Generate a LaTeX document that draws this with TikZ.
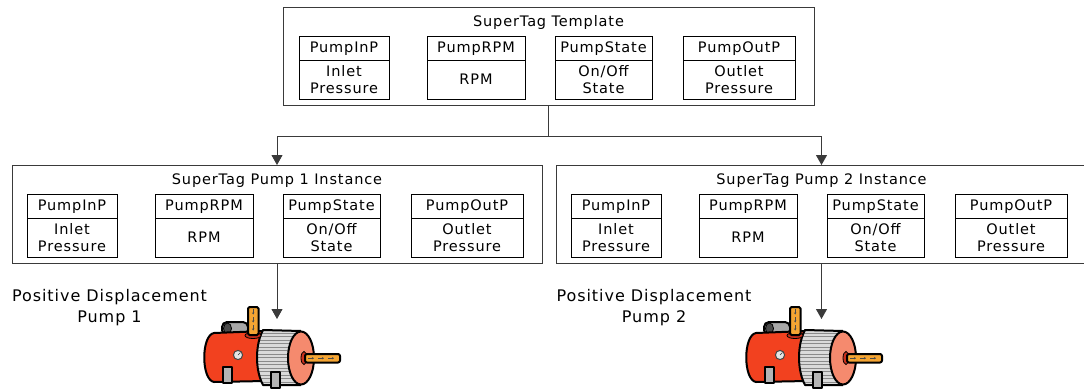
\documentclass[tikz,border=0pt]{standalone}
\usepackage{fontspec}
\setmainfont{DejaVu Sans}[LetterSpace=6]
\usetikzlibrary{arrows.meta}

\definecolor{tankred}{HTML}{F2411F}
\definecolor{flangered}{HTML}{C8301C}
\definecolor{capsalmon}{HTML}{F58A6E}
\definecolor{pipeorange}{HTML}{F5A533}
\definecolor{finlight}{HTML}{DADADA}
\definecolor{finline}{HTML}{8A8A8A}
\definecolor{exhaustgrey}{HTML}{A8A8A8}
\definecolor{exhaustdark}{HTML}{4A4A4A}
\definecolor{legsgrey}{HTML}{B4B4B4}
\definecolor{framegrey}{HTML}{3A3A3A}

% Pump artwork, drawn with its top-left region near (205,307)
\newcommand\drawpumpicon{%
  % exhaust cylinder behind the tank
  \draw[outl, fill=exhaustgrey, rounded corners=5pt] (222,322) rectangle (248,335);
  \draw[fill=exhaustdark, draw=black, line width=0.8pt] (227.5,328.5) ellipse (4 and 5.5);
  % red tank
  \draw[outl, fill=tankred] (265,331) -- (214,333)
     .. controls (201,335) and (201,380) .. (214,382) -- (265,381) -- cycle;
  % gauge
  \draw[fill=gray!20, draw=gray!55!black, line width=1pt] (238,355) circle (4.6);
  \draw[gray!40!black, line width=0.6pt] (238,355) -- (240.5,352.5);
  % legs
  \draw[outl, line width=1.2pt, fill=legsgrey] (223,367) rectangle (232,383);
  % finned motor
  \begin{scope}
    \clip (263,330) -- (301,331) -- (301,385) -- (263,385)
       .. controls (255,370) and (255,345) .. cycle;
    \fill[finlight] (250,325) rectangle (305,390);
    \foreach \yy in {333,336.5,...,384}
      \draw[finline, line width=0.9pt] (250,\yy) -- (305,\yy);
  \end{scope}
  \draw[outl] (301,331) -- (263,330) .. controls (255,345) and (255,370) .. (263,385) -- (301,385);
  \draw[outl, line width=1.2pt, fill=legsgrey] (271,372) rectangle (280,388);
  % motor end cap
  \draw[outl, fill=capsalmon] (301,358) ellipse (13 and 26.5);
  % shaft
  \draw[fill=flangered, draw=black, line width=0.8pt] (304,358) ellipse (3 and 6.5);
  \draw[outl, fill=pipeorange, rounded corners=2pt] (305,354) rectangle (340,362.5);
  \foreach \xx in {312,322,332}
    \draw[-{Stealth[length=2pt,width=2.4pt]}, black!70, line width=0.5pt] (\xx-4,358.2) -- (\xx+2,358.2);
  % inlet pipe
  \draw[fill=flangered, draw=black, line width=0.8pt] (253,335.5) ellipse (8 and 3);
  \draw[outl, fill=pipeorange, rounded corners=1.5pt] (248,307) rectangle (258.5,335);
  \foreach \yy in {313,321,329}
    \draw[-{Stealth[length=2pt,width=2.4pt]}, black!70, line width=0.5pt] (253.2,\yy-4) -- (253.2,\yy+1.5);
}

\begin{document}
\begin{tikzpicture}[x=1pt, y=-1pt,
  outl/.style={draw=black, line width=2pt, line join=round},
  outerbox/.style={draw=framegrey, line width=0.9pt, inner sep=0pt, outer sep=0pt, anchor=north west},
  boxtitle/.style={font=\fontsize{14.5}{16}\selectfont, anchor=base, inner sep=0pt},
  cellhead/.style={draw=black, line width=0.8pt, anchor=north west, minimum height=24pt,
    inner sep=0pt, outer sep=0pt, text height=10.5pt, text depth=2pt, font=\fontsize{14.5}{16}\selectfont},
  cellbody/.style={draw=black, line width=0.8pt, anchor=north, minimum height=39pt,
    inner sep=0pt, outer sep=0pt, align=center, font=\fontsize{14.5}{16.5}\selectfont},
  wire/.style={draw=framegrey, line width=0.9pt},
  feed/.style={wire, -{Triangle[width=11pt,length=10pt]}},
  pumplabel/.style={align=center, inner sep=0pt, font=\fontsize{16}{21}\selectfont}]

\useasboundingbox (0,0) rectangle (1084,391);

% template and the two instances, each with its four tag cells
\foreach \p/\dx/\dy/\w/\ix/\ttl in {
    t/283/7/531/16/{SuperTag Template},
    a/12/165/530/15/{SuperTag Pump 1 Instance},
    b/556/165/531/15/{SuperTag Pump 2 Instance}} {
  \begin{scope}[shift={(\dx,\dy)}]
    \node[outerbox, minimum width=\w pt, minimum height=98pt] (\p) at (0,0) {};
    \node[boxtitle] (\p-title) at (\w/2,19.5) {\ttl};
    \foreach \k/\cx/\cw/\hd/\bd in {
        1/0/90/PumpInP/{Inlet\\Pressure},
        2/128/98/PumpRPM/{RPM},
        3/256/97/PumpState/{On/Off\\State},
        4/384/112/PumpOutP/{Outlet\\Pressure}} {
      \node[cellhead, minimum width=\cw pt] (\p-h\k) at (\ix+\cx,29) {\hd};
      \node[cellbody, minimum width=\cw pt] (\p-b\k) at (\p-h\k.south) {\bd};
    }
  \end{scope}
}

% template feeds both instances
\draw[wire] (t.south) -- ++(0,31) coordinate (split);
\draw[feed] (split) -| (a.north);
\draw[feed] (split) -| (b.north);

% instances feed the pumps
\coordinate (pumplevel) at (0,319);
\coordinate (pumpin1) at (a.south |- pumplevel);
\coordinate (pumpin2) at (b.south |- pumplevel);
\draw[feed] (a.south) -- (pumpin1);
\draw[feed] (b.south) -- (pumpin2);

% pump labels
\node[pumplabel] (lab1) at (109.5,308) {Positive Displacement\\Pump 1};
\node[pumplabel] (lab2) at (654,308) {Positive Displacement\\Pump 2};

% pump artwork
\drawpumpicon
\begin{scope}[xshift=542pt]
  \drawpumpicon
\end{scope}
\end{tikzpicture}
\end{document}
